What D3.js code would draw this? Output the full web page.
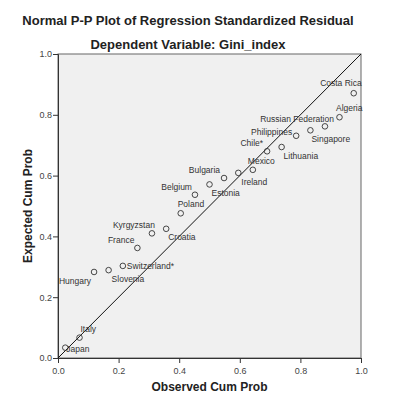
<!DOCTYPE html>
<html>
<head>
<meta charset="utf-8">
<script src="https://cdn.jsdelivr.net/npm/d3@7"></script>
<style>
  body { margin: 0; background: #fff; }
  svg text { font-family: "Liberation Sans", Arial, sans-serif; }
</style>
</head>
<body>
<div id="graphicContainer"></div>
<script>
// residual P-P plot
var countries = ["Japan", "Italy", "Hungary", "Slovenia", "Switzerland*", "France", "Kyrgyzstan",
	"Croatia", "Poland", "Belgium", "Estonia", "Bulgaria", "Ireland", "Mexico", "Chile*",
	"Lithuania", "Philippines", "Singapore", "Russian Federation", "Algeria", "Costa Rica"]
var observed = [0.024, 0.071, 0.119, 0.167, 0.214, 0.262, 0.310, 0.357, 0.405, 0.452, 0.500,
	0.548, 0.595, 0.643, 0.690, 0.738, 0.786, 0.833, 0.881, 0.929, 0.976]
var expected = [0.034, 0.067, 0.283, 0.289, 0.303, 0.362, 0.410, 0.425, 0.476, 0.537, 0.571,
	0.592, 0.609, 0.619, 0.680, 0.694, 0.731, 0.749, 0.762, 0.792, 0.871]
var ticks = [0, 0.2, 0.4, 0.6, 0.8, 1.0]

// where each label sits relative to its point [dx, dy, anchor]
var labelPos = [[1, 4, "start"], [1, -6, "start"], [-3, 12, "end"], [3, 12, "start"], [4, 3, "start"],
	[-3, -5, "end"], [3, -5, "end"], [2, 11, "start"], [-3, -6, "start"], [-3, -5, "end"],
	[2, 12, "start"], [-4, -5, "end"], [3, 12, "start"], [-5, -6, "start"], [-4, -5, "end"],
	[2, 12, "start"], [-4, -1, "end"], [1, 12, "start"], [9, -4, "end"], [23, -6, "end"], [8, -7, "end"]]

var width = 398, height = 400
var margin = {top: 54, right: 37, bottom: 42, left: 58}
var w = width - margin.left - margin.right
var h = height - margin.top - margin.bottom

var svg = d3.select("#graphicContainer").append("svg")
	.attr("width", width)
	.attr("height", height)

svg.append("text")
	.attr("x", 188).attr("y", 25)
	.attr("text-anchor", "middle")
	.style("font-size", "13px").style("font-weight", "bold").style("fill", "#222")
	.text("Normal P-P Plot of Regression Standardized Residual")

svg.append("text")
	.attr("x", 188).attr("y", 49)
	.attr("text-anchor", "middle")
	.style("font-size", "13px").style("font-weight", "bold").style("fill", "#222")
	.text("Dependent Variable: Gini_index")

var g = svg.append("g").attr("transform", "translate(" + margin.left + "," + margin.top + ")")

var x = d3.scaleLinear().domain([0, 1]).range([0, w])
var y = d3.scaleLinear().domain([0, 1]).range([h, 0])

g.append("rect")
	.attr("width", w).attr("height", h)
	.attr("fill", "#f0f0f0")
	.attr("stroke", "#666")

var xAxis = g.append("g")
	.attr("transform", "translate(0," + h + ")")
	.call(d3.axisBottom(x).tickValues(ticks).tickFormat(d3.format(".1f")).tickSizeOuter(0).tickSize(5))
var yAxis = g.append("g")
	.call(d3.axisLeft(y).tickValues(ticks).tickFormat(d3.format(".1f")).tickSizeOuter(0).tickSize(5))

;[xAxis, yAxis].forEach(function(a) {
	a.select(".domain").attr("stroke", "#333")
	a.selectAll(".tick line").attr("stroke", "#333")
	a.selectAll(".tick text").style("font-size", "9px").attr("fill", "#444")
		.style("font-family", "Liberation Sans, Arial, sans-serif")
})
xAxis.selectAll(".tick text").attr("dy", "0.9em")
yAxis.selectAll(".tick text").attr("x", -6)

// reference line
g.append("line")
	.attr("x1", x(0)).attr("y1", y(0))
	.attr("x2", x(1)).attr("y2", y(1))
	.attr("stroke", "#111").attr("stroke-width", 1)

var pts = countries.map(function(c, i) {
	return {name: c, obs: observed[i], exp: expected[i], lab: labelPos[i]}
})

g.append("g").selectAll("circle")
	.data(pts).enter()
	.append("circle")
	.attr("cx", d => x(d.obs))
	.attr("cy", d => y(d.exp))
	.attr("r", 2.8)
	.attr("fill", "none")
	.attr("stroke", "#333")
	.attr("stroke-width", 0.9)

g.append("g").selectAll("text")
	.data(pts).enter()
	.append("text")
	.attr("x", d => x(d.obs) + d.lab[0])
	.attr("y", d => y(d.exp) + d.lab[1])
	.attr("text-anchor", d => d.lab[2])
	.style("font-size", "8.5px")
	.style("fill", "#333")
	.text(d => d.name)

svg.append("text")
	.attr("x", margin.left + w / 2).attr("y", 391)
	.attr("text-anchor", "middle")
	.style("font-size", "12px").style("font-weight", "bold").style("fill", "#222")
	.text("Observed Cum Prob")

svg.append("text")
	.attr("transform", "translate(32," + (margin.top + h / 2) + ") rotate(-90)")
	.attr("text-anchor", "middle")
	.style("font-size", "12px").style("font-weight", "bold").style("fill", "#222")
	.text("Expected Cum Prob")
</script>
</body>
</html>
